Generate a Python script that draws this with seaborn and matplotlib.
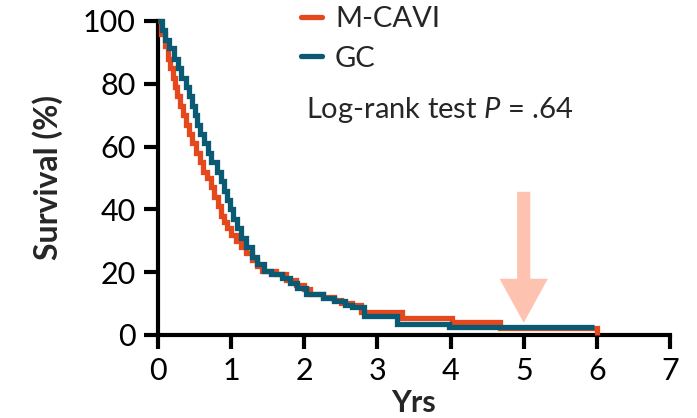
import numpy as np
import pandas as pd
import matplotlib
matplotlib.use("Agg")
import matplotlib.pyplot as plt
from matplotlib.patches import FancyArrow
from matplotlib.lines import Line2D
import seaborn as sns

# ---- data ----
groups = ["M-CAVI", "GC"]

mcavi_time = [0.00, 0.04, 0.10, 0.14, 0.17, 0.20, 0.23, 0.26, 0.30, 0.34, 0.38,
              0.43, 0.47, 0.52, 0.57, 0.62, 0.67, 0.72, 0.77, 0.82, 0.86, 0.90,
              0.95, 1.00, 1.06, 1.13, 1.20, 1.28, 1.35, 1.42, 1.62, 1.75, 1.88,
              2.00, 2.08, 2.25, 2.40, 2.50, 2.65, 2.78, 3.33, 4.02, 4.68, 6.00]
mcavi_surv = [100, 96, 92, 88, 85, 82, 79, 76, 73, 70, 67,
              64, 61, 58, 55, 52, 50, 47, 44, 41, 38, 36,
              34, 32, 30, 28, 26, 24, 22, 20.5, 19.5, 17.5, 16,
              14.5, 13, 12, 11, 10.3, 9.6, 7.4, 5.3, 4.1, 2.2, 0.0]

gc_time = [0.00, 0.06, 0.10, 0.15, 0.22, 0.27, 0.32, 0.38, 0.42, 0.46, 0.50,
           0.54, 0.58, 0.63, 0.68, 0.73, 0.80, 0.86, 0.90, 0.94, 0.98, 1.03,
           1.08, 1.14, 1.20, 1.28, 1.36, 1.45, 1.55, 1.70, 1.80, 1.90, 2.03,
           2.25, 2.40, 2.55, 2.65, 2.82, 3.27, 3.98, 5.96]
gc_surv = [100, 97, 94, 91.5, 88, 85, 82, 79, 76, 73, 70,
           67, 64, 61, 58, 55, 52, 49, 46, 43, 40, 37,
           34, 31, 28, 25, 22.5, 20.5, 19.5, 18, 16.5, 15, 13,
           11.8, 10.8, 9.5, 8.8, 6.2, 3.4, 2.4, 2.4]

x_ticks = [0, 1, 2, 3, 4, 5, 6, 7]
y_ticks = [0, 20, 40, 60, 80, 100]
pvalue_text = r"Log-rank test $\it{P}$ = .64"
arrow_year = 5.0
arrow_top, arrow_tip = 45.6, 3.9

# ---- build table ----
df = pd.concat([
    pd.DataFrame({"Yrs": mcavi_time, "Survival": mcavi_surv, "Arm": groups[0]}),
    pd.DataFrame({"Yrs": gc_time, "Survival": gc_surv, "Arm": groups[1]}),
], ignore_index=True)

sns.set_style("ticks")
plt.rcParams["font.family"] = ["Lato", "DejaVu Sans"]
plt.rcParams["mathtext.fontset"] = "custom"
plt.rcParams["mathtext.rm"] = "Lato"
plt.rcParams["mathtext.it"] = "Lato:italic"

colors = {"M-CAVI": "#E5481C", "GC": "#0B5A73"}

fig = plt.figure(figsize=(6.97, 4.18), dpi=100)
ax = fig.add_axes([158 / 697, 1 - 335 / 418, (670 - 158) / 697, (335 - 21) / 418])

# arrow (behind curves)
ax.add_patch(FancyArrow(arrow_year, arrow_top, 0, -(arrow_top - arrow_tip),
                        width=0.18, head_width=0.66, head_length=14,
                        length_includes_head=True, color="#FDC2B0", lw=0,
                        zorder=1))

sns.lineplot(data=df, x="Yrs", y="Survival", hue="Arm", palette=colors,
             estimator=None, sort=False, drawstyle="steps-post",
             linewidth=3.8, legend=False, ax=ax, zorder=3)
for ln in ax.lines:
    ln.set_clip_on(False)
    ln.set_solid_joinstyle("miter")
    ln.set_solid_capstyle("butt")

ax.set_xlim(0, 7)
ax.set_ylim(0, 100)
ax.set_xticks(x_ticks)
ax.set_yticks(y_ticks)
ax.set_xticklabels([str(t) for t in x_ticks])
ax.set_yticklabels([str(t) for t in y_ticks])
ax.tick_params(axis="both", labelsize=22, length=10, width=3, pad=6,
               colors="black", labelcolor="black")
for side in ["top", "right"]:
    ax.spines[side].set_visible(False)
for side in ["left", "bottom"]:
    ax.spines[side].set_linewidth(3)
    ax.spines[side].set_color("black")

ax.set_xlabel("Yrs", fontsize=22, fontweight="bold", labelpad=3)
ax.set_ylabel("Survival (%)", fontsize=23, fontweight="bold", labelpad=14)

handles = [Line2D([], [], color=colors[g], lw=3.8) for g in groups]
leg = ax.legend(handles, groups, loc="upper left",
                bbox_to_anchor=(300 / 697, 1 - 5 / 418), bbox_transform=fig.transFigure,
                frameon=False, fontsize=21, handlelength=0.7,
                handletextpad=0.45, labelspacing=0.45, borderaxespad=0,
                borderpad=0.05)

fig.text(306 / 697, 1 - 110 / 418, pvalue_text, fontsize=21, va="center",
         ha="left")

fig.savefig("out.png", dpi=100)
